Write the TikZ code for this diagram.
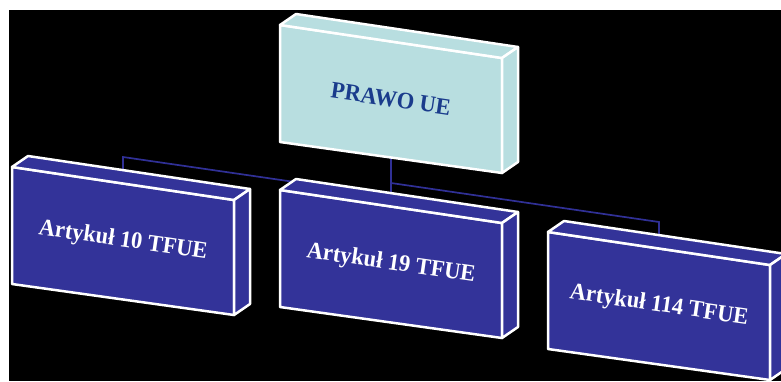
\documentclass[tikz,border=0pt]{standalone}
\usepackage{fontspec}
\setmainfont{Liberation Serif}
\usetikzlibrary{calc}

\definecolor{deepblue}{RGB}{51,51,153}
\definecolor{paleaqua}{RGB}{184,222,224}
\definecolor{inkblue}{RGB}{26,60,140}
\definecolor{linkblue}{RGB}{48,48,150}

% A slanted 3D plate: name, x, y of the front top-left corner, fill colour
\newcommand\plate[4]{%
  \coordinate (#1-tl) at (#2,#3);
  \coordinate (#1-tr) at ($(#1-tl)+(222,33)$);
  \coordinate (#1-br) at ($(#1-tl)+(222,148)$);
  \coordinate (#1-bl) at ($(#1-tl)+(0,117)$);
  \path[edgeline,fill=#4] (#1-tl) -- (#1-tr) -- (#1-br) -- (#1-bl) -- cycle;
  \path[edgeline,fill=#4] (#1-tl) -- ++(16,-11) -- ($(#1-tr)+(16,-11)$) -- (#1-tr) -- cycle;
  \path[edgeline,fill=#4] (#1-tr) -- ++(16,-11) -- ($(#1-br)+(16,-11)$) -- (#1-br) -- cycle;
}

\begin{document}
\begin{tikzpicture}[x=1pt,y=-1pt,
  edgeline/.style={draw=white,line width=2.5pt,line join=round},
  link/.style={draw=linkblue,line width=1.7pt},
  caption/.style={font=\bfseries\fontsize{22.5}{25}\selectfont,rotate=-8.3,inner sep=0pt,yscale=1.05}]

  \useasboundingbox (0,0) rectangle (781,381);
  \fill[white] (0,0) rectangle (781,381);
  \fill[black] (9,10) rectangle (781,380.5);
  \clip (0,0) rectangle (781,381);

  % connector hubs
  \coordinate (hubL) at (123,157);
  \coordinate (hubM) at (391,196);
  \coordinate (hubR) at (391,183);
  \coordinate (hubE) at (659,222);
  \coordinate (rootfoot) at (391,158);
  \coordinate (leftfoot) at (123,184);
  \coordinate (midhead) at (391,206);
  \coordinate (rightfoot) at (659,249);

  % connectors (drawn first so the plates cover their ends)
  \draw[link] (leftfoot) -- (hubL) -- (hubM);
  \draw[link] (rootfoot) -- (midhead);
  \draw[link] (hubR) -- (hubE) -- (rightfoot);

  % plates
  \plate{root}{280}{25}{paleaqua}
  \plate{left}{12}{167}{deepblue}
  \plate{mid}{280}{190}{deepblue}
  \plate{right}{548}{232}{deepblue}

  % captions
  \node[caption,text=inkblue] (rootlabel) at ($(root-tl)!0.5!(root-br)$) {PRAWO UE};
  \node[caption,text=white] (leftlabel) at ($(left-tl)!0.5!(left-br)$) {Artykuł 10 TFUE};
  \node[caption,text=white] (midlabel) at ($(mid-tl)!0.5!(mid-br)$) {Artykuł 19 TFUE};
  \node[caption,text=white] (rightlabel) at ($(right-tl)!0.5!(right-br)$) {Artykuł 114 TFUE};
\end{tikzpicture}
\end{document}
